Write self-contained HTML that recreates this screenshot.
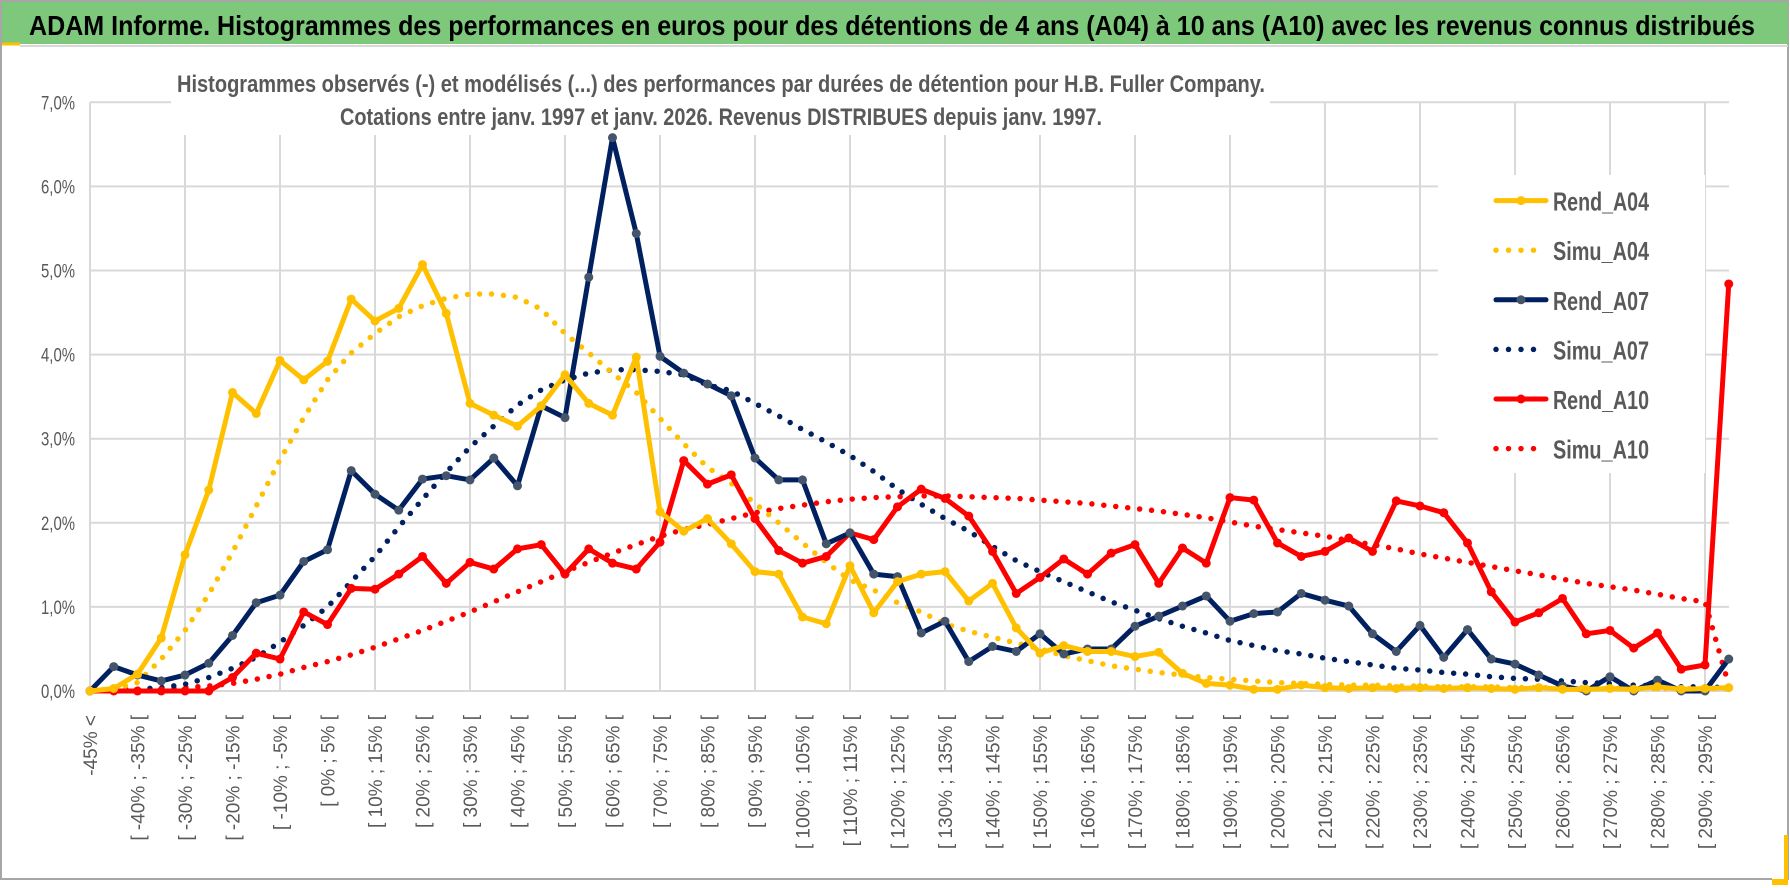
<!DOCTYPE html>
<html><head><meta charset="utf-8"><style>
html,body{margin:0;padding:0;background:#fff;}
svg{display:block;font-family:"Liberation Sans",sans-serif;}
</style></head><body>
<svg id="chart" width="1790" height="888" viewBox="0 0 1790 888" xmlns="http://www.w3.org/2000/svg">
  <rect x="0" y="0" width="1790" height="888" fill="#fff"/>
  <rect x="1" y="1" width="1787" height="878" fill="none" stroke="#a6a6a6" stroke-width="2"/>
  <rect x="2" y="2" width="1786" height="42" fill="#7dc87a"/>
  <line x1="2" y1="44" x2="20" y2="44" stroke="#ffc000" stroke-width="3"/>
  <line x1="20" y1="46" x2="1788" y2="46" stroke="#d9d9d9" stroke-width="2"/>
  <rect x="1772" y="835" width="16" height="50" fill="#ffc000"/>
  <rect x="1772" y="835" width="12" height="44" fill="#fff"/>
  <text x="29" y="35" font-size="28" font-weight="bold" fill="#000" textLength="1726" lengthAdjust="spacingAndGlyphs">ADAM Informe. Histogrammes des performances en euros pour des détentions de 4 ans (A04) à 10 ans (A10) avec les revenus connus distribués</text>
  <g id="grid"></g>
  <rect x="171" y="56" width="1099" height="79" fill="#fff"/>
  <text x="177" y="92" font-size="24" font-weight="bold" fill="#595959" textLength="1088" lengthAdjust="spacingAndGlyphs">Histogrammes observés (-) et modélisés (...) des performances par durées de détention pour H.B. Fuller Company.</text>
  <text x="340" y="125" font-size="24" font-weight="bold" fill="#595959" textLength="762" lengthAdjust="spacingAndGlyphs">Cotations entre janv. 1997 et janv. 2026. Revenus DISTRIBUES depuis janv. 1997.</text>
  <g id="yaxis"></g>
  <g id="xaxis"></g>
  <g id="series"></g>
  <g id="legend"></g>
</svg>
<script>
const yTicks = [0,1,2,3,4,5,6,7];
const rendA04 = [0,0.03,0.2,0.63,1.62,2.39,3.55,3.3,3.93,3.7,3.92,4.66,4.4,4.55,5.07,4.49,3.42,3.28,3.15,3.39,3.76,3.42,3.28,3.97,2.13,1.9,2.05,1.75,1.42,1.39,0.88,0.8,1.49,0.93,1.3,1.39,1.42,1.07,1.28,0.75,0.45,0.54,0.47,0.47,0.41,0.46,0.21,0.09,0.07,0.02,0.02,0.07,0.04,0.03,0.04,0.03,0.04,0.03,0.04,0.03,0.02,0.04,0.02,0.02,0.03,0.02,0.05,0.02,0.03,0.04];
const simuA04 = [0,0.02,0.1,0.38,0.72,1.15,1.65,2.2,2.75,3.25,3.7,4.02,4.25,4.45,4.58,4.67,4.72,4.72,4.68,4.54,4.25,4.02,3.78,3.55,3.24,2.94,2.66,2.47,2.23,2.0,1.76,1.53,1.32,1.2,1.05,0.94,0.8,0.71,0.64,0.57,0.5,0.42,0.36,0.3,0.26,0.22,0.19,0.16,0.14,0.12,0.1,0.09,0.08,0.07,0.07,0.06,0.06,0.05,0.05,0.05,0.04,0.04,0.04,0.04,0.03,0.03,0.03,0.03,0.03,0.03];
const rendA07 = [0,0.29,0.19,0.12,0.19,0.33,0.66,1.05,1.14,1.54,1.68,2.62,2.34,2.15,2.52,2.56,2.51,2.77,2.44,3.39,3.25,4.92,6.58,5.44,3.98,3.78,3.65,3.51,2.77,2.51,2.51,1.75,1.88,1.39,1.36,0.69,0.83,0.35,0.53,0.47,0.68,0.44,0.5,0.5,0.77,0.89,1.01,1.13,0.83,0.92,0.94,1.16,1.08,1.01,0.68,0.47,0.78,0.4,0.73,0.38,0.32,0.19,0.06,0,0.17,0,0.13,0,0,0.38];
const simuA07 = [0,0.01,0.02,0.04,0.08,0.16,0.27,0.4,0.58,0.78,1.0,1.3,1.6,1.95,2.28,2.6,2.9,3.15,3.4,3.58,3.7,3.78,3.82,3.82,3.8,3.76,3.64,3.57,3.42,3.27,3.11,2.96,2.8,2.61,2.4,2.22,2.05,1.9,1.72,1.55,1.42,1.3,1.18,1.06,0.96,0.86,0.77,0.69,0.6,0.54,0.48,0.44,0.39,0.35,0.31,0.27,0.25,0.22,0.2,0.17,0.15,0.14,0.12,0.1,0.09,0.07,0.06,0.05,0.05,0.04];
const rendA10 = [0,0,0,0,0,0,0.16,0.45,0.38,0.94,0.79,1.22,1.21,1.39,1.6,1.28,1.53,1.45,1.69,1.74,1.39,1.69,1.52,1.45,1.77,2.74,2.46,2.57,2.05,1.67,1.52,1.6,1.88,1.8,2.19,2.4,2.29,2.08,1.66,1.16,1.35,1.57,1.39,1.64,1.74,1.28,1.7,1.52,2.3,2.27,1.76,1.6,1.66,1.82,1.66,2.26,2.2,2.12,1.76,1.18,0.82,0.93,1.1,0.68,0.72,0.51,0.69,0.26,0.31,4.84];
const simuA10 = [0,0.005,0.01,0.02,0.04,0.06,0.09,0.14,0.2,0.28,0.35,0.43,0.52,0.62,0.72,0.83,0.94,1.06,1.18,1.3,1.42,1.53,1.64,1.74,1.84,1.92,1.98,2.05,2.12,2.17,2.21,2.25,2.28,2.3,2.31,2.32,2.32,2.31,2.3,2.29,2.27,2.25,2.23,2.2,2.17,2.14,2.1,2.06,2.01,1.96,1.92,1.88,1.84,1.79,1.74,1.69,1.63,1.58,1.53,1.48,1.43,1.38,1.33,1.28,1.24,1.2,1.15,1.1,1.06,0.07];

const NS = "http://www.w3.org/2000/svg";
const X0 = 90, STEP = 23.75, Y0 = 691, YUNIT = 84.1;
const xs = i => X0 + i * STEP;
const ys = v => Y0 - v * YUNIT;
function mk(tag, attrs, parent){ const e=document.createElementNS(NS,tag); for(const k in attrs) e.setAttribute(k,attrs[k]); parent.appendChild(e); return e; }
function catLabel(i){ if(i===0) return "-45% <"; const a=-45+5*(i-1); return "[ "+a+"% ; "+(a+5)+"% ["; }

const grid = document.getElementById('grid');
yTicks.forEach(t=>{
  const l = mk('line',{x1:X0,x2:1729,y1:ys(t),y2:ys(t),stroke:'#d9d9d9','stroke-width':2},grid);
  
  
});
const nCat = rendA04.length;
for(let i=4;i<nCat;i+=4){
  const l = mk('line',{x1:xs(i),x2:xs(i),y1:ys(7),y2:Y0,stroke:'#d9d9d9','stroke-width':2},grid);
  
  
}
mk('line',{x1:X0,x2:X0,y1:ys(7),y2:Y0,stroke:'#d9d9d9','stroke-width':2},grid);

const yaxis = document.getElementById('yaxis');
yTicks.forEach(t=>{
  const tx = mk('text',{x:75,y:ys(t)+7,'text-anchor':'end','font-size':19,fill:'#595959',textLength:34,lengthAdjust:'spacingAndGlyphs'},yaxis);
  
  
  tx.textContent = t.toFixed(1).replace('.',',')+'%';
});
const xaxis = document.getElementById('xaxis');
for(let i=0;i<nCat;i+=2){
  const x = xs(i)+7, y = 715;
  const tx = mk('text',{x:x,y:y,'text-anchor':'end','font-size':19,fill:'#595959',transform:`rotate(-90 ${x} ${y})`},xaxis);
  
  
  tx.textContent = catLabel(i);
}

const series = document.getElementById('series');
function drawDotted(vals,color,name){
  const p = mk('polyline',{points:vals.map((v,i)=>xs(i)+','+ys(v)).join(' '),fill:'none',stroke:color,'stroke-width':5.5,'stroke-linecap':'round','stroke-dasharray':'0 12'},series);
  
  
}
function drawSolid(vals,color,mcolor,name){
  const g = mk('g',{},series);
  
  
  mk('polyline',{points:vals.map((v,i)=>xs(i)+','+ys(v)).join(' '),fill:'none',stroke:color,'stroke-width':5,'stroke-linejoin':'round'},g);
  vals.forEach((v,i)=>{
    const c = mk('circle',{cx:xs(i),cy:ys(v),r:4.5,fill:mcolor},g);
    
    
  });
}
drawDotted(simuA10,'#ff0000','simu-a10-line');
drawDotted(simuA07,'#002060','simu-a07-line');
drawDotted(simuA04,'#ffc000','simu-a04-line');
drawSolid(rendA10,'#ff0000','#ff0000','rend-a10-line');
drawSolid(rendA07,'#002060','#44546a','rend-a07-line');
drawSolid(rendA04,'#ffc000','#ffc000','rend-a04-line');

const legend = document.getElementById('legend');
mk('rect',{x:1438,y:175,width:267,height:298,fill:'#fff'},legend);
const legNames = ['Rend_A04','Simu_A04','Rend_A07','Simu_A07','Rend_A10','Simu_A10'];
const legColors = ['#ffc000','#ffc000','#002060','#002060','#ff0000','#ff0000'];
const legMark = ['#ffc000',null,'#44546a',null,'#ff0000',null];
legNames.forEach((n,k)=>{
  const cy = 200.6 + k*49.6;
  const g = mk('g',{},legend);
  
  
  if(legMark[k]){
    mk('line',{x1:1496,x2:1546,y1:cy,y2:cy,stroke:legColors[k],'stroke-width':5,'stroke-linecap':'round'},g);
    mk('circle',{cx:1521,cy:cy,r:4.5,fill:legMark[k]},g);
  } else {
    mk('line',{x1:1496,x2:1546,y1:cy,y2:cy,stroke:legColors[k],'stroke-width':5.5,'stroke-linecap':'round','stroke-dasharray':'0 12.5'},g);
  }
  const t = mk('text',{x:1553,y:cy+10,'font-size':26,'font-weight':'bold',fill:'#595959',textLength:96,lengthAdjust:'spacingAndGlyphs'},g);
  t.textContent = n;
});
</script>
</body></html>
